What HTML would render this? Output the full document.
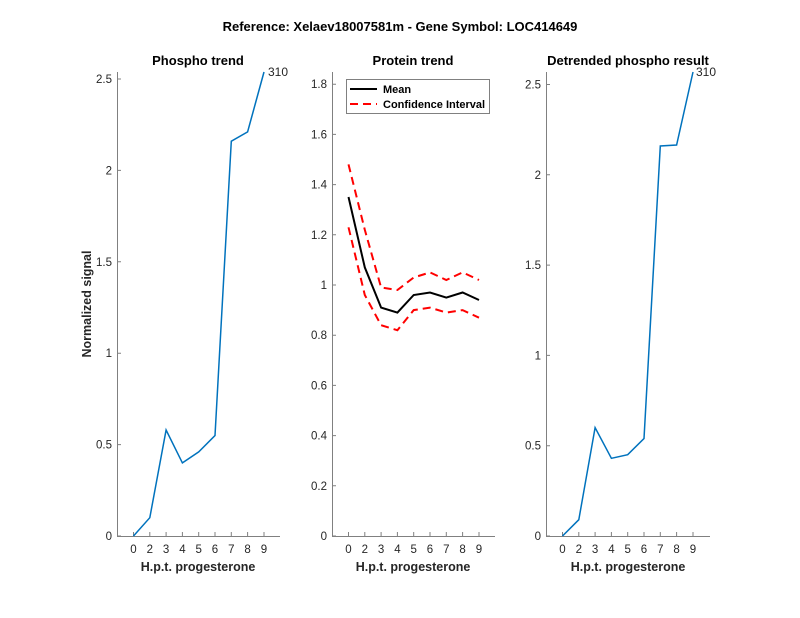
<!DOCTYPE html>
<html><head><meta charset="utf-8"><style>body{margin:0;background:#fff}svg{display:block}text{font-family:"Liberation Sans",Arial,sans-serif;fill:#262626}</style></head><body>
<svg width="800" height="618" xmlns="http://www.w3.org/2000/svg">
<rect width="800" height="618" fill="#fff"/>
<text x="400" y="31" font-size="13" font-weight="bold" text-anchor="middle" style="fill:#000">Reference:  Xelaev18007581m - Gene Symbol:  LOC414649</text>
<g font-size="13" font-weight="bold" text-anchor="middle">
<text x="198" y="65" style="fill:#000">Phospho trend</text>
<text x="413" y="65" style="fill:#000">Protein trend</text>
<text x="628" y="65" style="fill:#000">Detrended phospho result</text>
</g>
<g stroke="#808080" stroke-width="1" fill="none">
<path d="M117.5 72V536.5H280"/>
<path d="M332.5 72V536.5H495"/>
<path d="M546.5 72V536.5H710"/>
</g>
<g stroke="#808080" stroke-width="1">
<path d="M133.5 536v-4M149.8 536v-4M166.1 536v-4M182.4 536v-4M198.7 536v-4M215 536v-4M231.3 536v-4M247.6 536v-4M264 536v-4"/>
<path d="M348.5 536v-4M364.8 536v-4M381.1 536v-4M397.4 536v-4M413.7 536v-4M430 536v-4M446.3 536v-4M462.6 536v-4M479 536v-4"/>
<path d="M562.5 536v-4M578.8 536v-4M595.1 536v-4M611.4 536v-4M627.7 536v-4M644 536v-4M660.3 536v-4M676.6 536v-4M693 536v-4"/>
<path d="M117 536h4M117 444.6h4M117 353.2h4M117 261.8h4M117 170.4h4M117 79h4"/>
<path d="M332 536h4M332 485.8h4M332 435.6h4M332 385.4h4M332 335.2h4M332 285h4M332 234.8h4M332 184.6h4M332 134.4h4M332 84.2h4"/>
<path d="M546 536h4M546 445.7h4M546 355.4h4M546 265.1h4M546 174.8h4M546 84.5h4"/>
</g>
<g font-size="11.5" text-anchor="middle">
<g transform="translate(0,553)"><text x="133.5">0</text><text x="149.8">2</text><text x="166.1">3</text><text x="182.4">4</text><text x="198.7">5</text><text x="215">6</text><text x="231.3">7</text><text x="247.6">8</text><text x="264">9</text></g>
<g transform="translate(0,553)"><text x="348.5">0</text><text x="364.8">2</text><text x="381.1">3</text><text x="397.4">4</text><text x="413.7">5</text><text x="430">6</text><text x="446.3">7</text><text x="462.6">8</text><text x="479">9</text></g>
<g transform="translate(0,553)"><text x="562.5">0</text><text x="578.8">2</text><text x="595.1">3</text><text x="611.4">4</text><text x="627.7">5</text><text x="644">6</text><text x="660.3">7</text><text x="676.6">8</text><text x="693">9</text></g>
</g>
<g font-size="11.5" text-anchor="end">
<text x="112" y="540">0</text><text x="112" y="448.6">0.5</text><text x="112" y="357.2">1</text><text x="112" y="265.8">1.5</text><text x="112" y="174.4">2</text><text x="112" y="83">2.5</text>
<text x="327" y="540">0</text><text x="327" y="489.8">0.2</text><text x="327" y="439.6">0.4</text><text x="327" y="389.4">0.6</text><text x="327" y="339.2">0.8</text><text x="327" y="289">1</text><text x="327" y="238.8">1.2</text><text x="327" y="188.6">1.4</text><text x="327" y="138.4">1.6</text><text x="327" y="88.2">1.8</text>
<text x="541" y="540">0</text><text x="541" y="449.7">0.5</text><text x="541" y="359.4">1</text><text x="541" y="269.1">1.5</text><text x="541" y="178.8">2</text><text x="541" y="88.5">2.5</text>
</g>
<g font-size="12.5" font-weight="bold" text-anchor="middle">
<text x="198" y="571">H.p.t. progesterone</text>
<text x="413" y="571">H.p.t. progesterone</text>
<text x="628" y="571">H.p.t. progesterone</text>
<text transform="translate(91,304) rotate(-90)">Normalized signal</text>
</g>
<polyline fill="none" stroke="#0072BD" stroke-width="1.5" points="133.5,536 149.8,517.7 166.1,430 182.4,462.9 198.7,451.9 215,435.5 231.3,141.2 247.6,131.9 264,72"/>
<text x="268" y="76" font-size="12">310</text>
<polyline fill="none" stroke="#0072BD" stroke-width="1.5" points="562.5,536 578.8,519.7 595.1,427.6 611.4,458.3 627.7,454.7 644,438.5 660.3,146 676.6,145 693,72"/>
<text x="696" y="76" font-size="12">310</text>
<polyline fill="none" stroke="#000" stroke-width="2" points="348.5,197 364.8,267.4 381.1,307.6 397.4,312.6 413.7,295 430,292.5 446.3,297.6 462.6,292.5 479,300"/>
<g fill="none" stroke="#f00" stroke-width="2" stroke-dasharray="8,5">
<polyline points="348.5,164.4 364.8,229.8 381.1,287.5 397.4,290 413.7,277.5 430,272.4 446.3,280 462.6,272.4 479,280"/>
<polyline points="348.5,227.3 364.8,295 381.1,325.2 397.4,330.2 413.7,310.1 430,307.6 446.3,312.6 462.6,310.1 479,317.7"/>
</g>
<rect x="346.5" y="79.5" width="143" height="34" fill="#fff" stroke="#808080"/>
<line x1="350" y1="89" x2="377" y2="89" stroke="#000" stroke-width="2"/>
<line x1="350" y1="104" x2="377" y2="104" stroke="#f00" stroke-width="2" stroke-dasharray="8,5"/>
<text x="383" y="93" font-size="11" font-weight="bold" style="fill:#000">Mean</text>
<text x="383" y="108" font-size="11" font-weight="bold" style="fill:#000">Confidence Interval</text>
</svg>
</body></html>
